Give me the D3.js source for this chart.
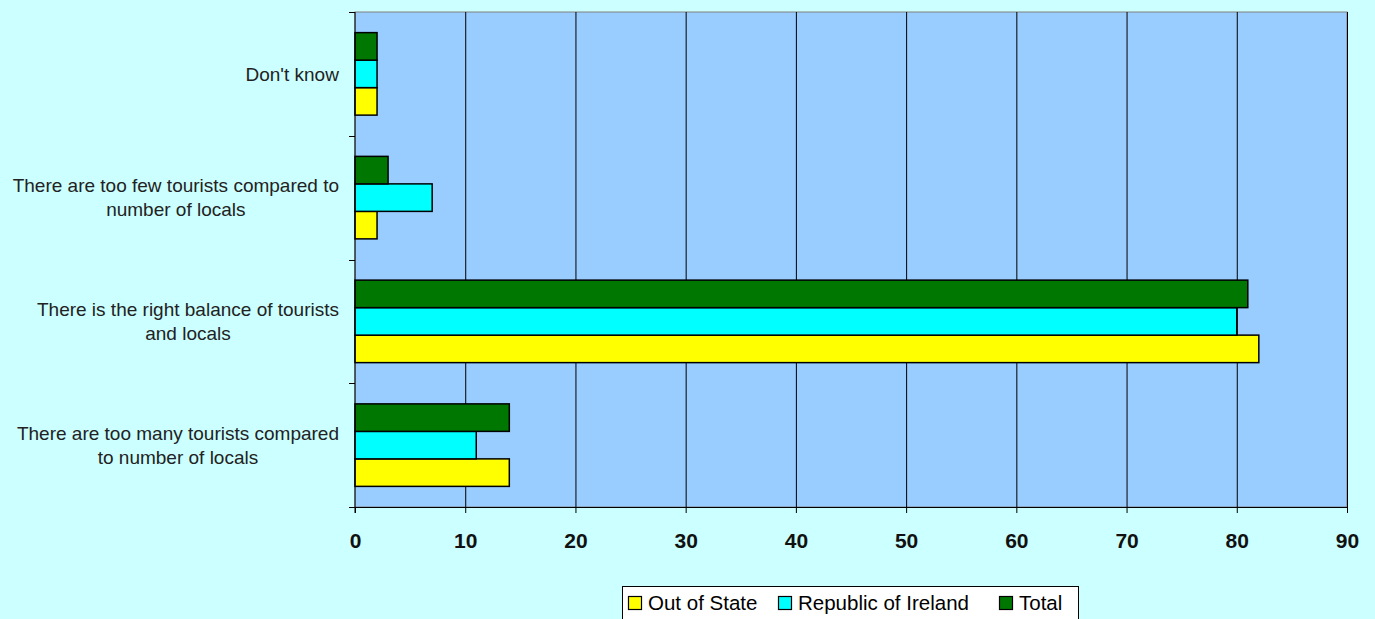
<!DOCTYPE html>
<html>
<head>
<meta charset="utf-8">
<script src="https://cdn.jsdelivr.net/npm/d3@7"></script>
<style>
  html, body { margin: 0; padding: 0; background: #ccffff; }
  svg { display: block; font-family: "Liberation Sans", Arial, sans-serif; }
</style>
</head>
<body>
<svg id="chart" width="1375" height="619"></svg>
<script>
// Responses, listed bottom-to-top as on the chart
const categories = [
  ["There are too many tourists compared", "to number of locals"],
  ["There is the right balance of tourists", "and locals"],
  ["There are too few tourists compared to", "number of locals"],
  ["Don't know"]
];
const seriesNames = ["Out of State", "Republic of Ireland", "Total"];
const outOfState = [14, 82, 2, 2];
const republicOfIreland = [11, 80, 7, 2];
const total = [14, 81, 3, 2];
const xTicks = [0, 10, 20, 30, 40, 50, 60, 70, 80, 90];
const colors = ["#ffff00", "#00ffff", "#007700"];

const seriesValues = [outOfState, republicOfIreland, total];

const svg = d3.select("#chart");
const plot = { left: 355, top: 12, right: 1347, bottom: 507 };

const x = d3.scaleLinear().domain([0, 90]).range([plot.left, plot.right]);
// categories run bottom-to-top
const y = d3.scaleBand()
  .domain(d3.range(categories.length))
  .range([plot.bottom, plot.top])
  .paddingInner(1 / 3).paddingOuter(1 / 6);
// within a group: Total on top, Out of State at the bottom
const ySub = d3.scaleBand()
  .domain(d3.range(seriesNames.length))
  .range([y.bandwidth(), 0]);

// plot background
svg.append("rect")
  .attr("x", plot.left).attr("y", plot.top)
  .attr("width", plot.right - plot.left).attr("height", plot.bottom - plot.top)
  .attr("fill", "#99ccff").attr("stroke", "#808080").attr("stroke-width", 1);

// vertical gridlines
svg.append("g").selectAll("line")
  .data(xTicks.slice(1))
  .join("line")
  .attr("x1", d => x(d) + 0.5).attr("x2", d => x(d) + 0.5)
  .attr("y1", plot.top).attr("y2", plot.bottom)
  .attr("stroke", "#000").attr("stroke-width", 1);

// bars
const groups = svg.append("g").selectAll("g")
  .data(categories.map((c, i) => i))
  .join("g")
  .attr("transform", i => `translate(0,${y(i)})`);

groups.selectAll("rect")
  .data(i => seriesValues.map((s, k) => ({ k, v: s[i] })))
  .join("rect")
  .attr("x", x(0))
  .attr("y", d => ySub(d.k))
  .attr("width", d => x(d.v) - x(0))
  .attr("height", ySub.bandwidth())
  .attr("fill", d => colors[d.k])
  .attr("stroke", "#000").attr("stroke-width", 1.5);

// x axis
const xAxis = svg.append("g")
  .attr("transform", `translate(0,${plot.bottom})`)
  .call(d3.axisBottom(x).tickValues(xTicks).tickSize(6).tickPadding(20).tickSizeOuter(0));
xAxis.select(".domain").attr("stroke", "#000");
xAxis.selectAll(".tick line").attr("stroke", "#000");
xAxis.selectAll("text")
  .attr("font-size", 21).attr("font-weight", "bold").attr("fill", "#111")
  .attr("font-family", "Liberation Sans, Arial, sans-serif");

// y axis line with boundary ticks between categories
const yAxisG = svg.append("g");
yAxisG.append("line")
  .attr("x1", plot.left).attr("x2", plot.left)
  .attr("y1", plot.top).attr("y2", plot.bottom + 6)
  .attr("stroke", "#000");
const bounds = d3.range(categories.length + 1).map(i => plot.bottom - i * (plot.bottom - plot.top) / categories.length);
yAxisG.selectAll("line.tk")
  .data(bounds)
  .join("line").attr("class", "tk")
  .attr("x1", plot.left - 6).attr("x2", plot.left)
  .attr("y1", d => Math.round(d) + 0.5).attr("y2", d => Math.round(d) + 0.5)
  .attr("stroke", "#000");

// category labels: block right-aligned, lines centred within the block
const labelRight = 339;
const lineH = 24;
categories.forEach((lines, i) => {
  const cy = y(i) + y.bandwidth() / 2;
  const g = svg.append("g");
  const t = g.append("text")
    .attr("font-size", 19).attr("fill", "#222")
    .attr("text-anchor", "middle");
  lines.forEach((ln, j) => {
    t.append("tspan")
      .attr("x", 0)
      .attr("y", cy + (j - (lines.length - 1) / 2) * lineH)
      .attr("dy", "0.35em")
      .text(ln);
  });
  const w = t.node().getBBox().width;
  t.attr("transform", `translate(${labelRight - w / 2},0)`);
});

// legend
const legend = svg.append("g");
legend.append("rect")
  .attr("x", 622.5).attr("y", 586.5).attr("width", 456).attr("height", 40)
  .attr("fill", "#ffffff").attr("stroke", "#000");
const legendX = [628, 778, 999];
seriesNames.forEach((name, k) => {
  legend.append("rect")
    .attr("x", legendX[k] + 0.5).attr("y", 596.5)
    .attr("width", 13).attr("height", 13)
    .attr("fill", colors[k]).attr("stroke", "#000").attr("stroke-width", 1.2);
  legend.append("text")
    .attr("x", legendX[k] + 20).attr("y", 603).attr("dy", "0.36em")
    .attr("font-size", 20.5).attr("fill", "#000")
    .text(name);
});
</script>
</body>
</html>
